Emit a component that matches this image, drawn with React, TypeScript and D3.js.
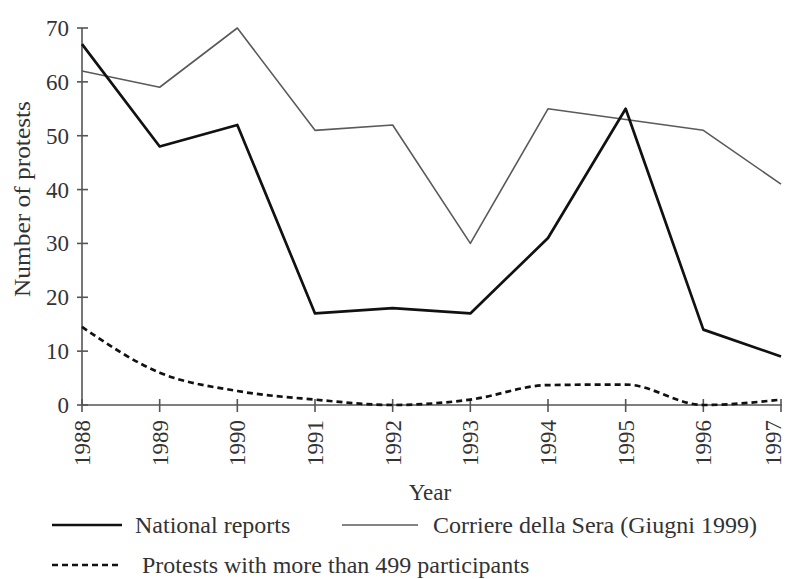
import React from "react";
import * as d3 from "d3";

const years = [1988, 1989, 1990, 1991, 1992, 1993, 1994, 1995, 1996, 1997];
const nationalReports = [67, 48, 52, 17, 18, 17, 31, 55, 14, 9];
const corriere = [62, 59, 70, 51, 52, 30, 55, 53, 51, 41];
const largeProtests = [14.5, 6, 2.6, 1, 0, 1, 3.7, 3.8, 0, 1];
const yTicks = [0, 10, 20, 30, 40, 50, 60, 70];

const W = 787;
const H = 579;
const left = 82;
const right = 781;
const top = 28;
const bottom = 405;
const font = "'Liberation Serif', 'Times New Roman', serif";

export default function App() {
  const x = d3.scaleLinear().domain([1988, 1997]).range([left, right]);
  const y = d3.scaleLinear().domain([0, 70]).range([bottom, top]);
  const line = d3
    .line<number>()
    .x((_, i) => x(years[i]))
    .y((d) => y(d));
  const smooth = d3
    .line<number>()
    .x((_, i) => x(years[i]))
    .y((d) => y(d))
    .curve(d3.curveMonotoneX);
  const axisColor = "#555";
  const textColor = "#333";
  const row1 = 525;
  const row2 = 565;
  return (
    <svg
      width={W}
      height={H}
      style={{ position: "absolute", left: 0, top: 0, background: "#fff" }}
      fontFamily={font}
    >
      {/* axes */}
      <line x1={left} x2={left} y1={top} y2={bottom} stroke={axisColor} strokeWidth={1.6} />
      <line x1={left} x2={right + 1} y1={bottom} y2={bottom} stroke={axisColor} strokeWidth={1.6} />
      {yTicks.map((t) => (
        <g key={t}>
          <line x1={left - 5} x2={left + 6} y1={y(t)} y2={y(t)} stroke={axisColor} strokeWidth={1.6} />
          <text x={left - 13} y={y(t)} dy="0.35em" textAnchor="end" fontSize={23} fill={textColor}>
            {t}
          </text>
        </g>
      ))}
      {years.map((yr, i) => (
        <g key={yr}>
          <line x1={x(yr)} x2={x(yr)} y1={bottom - 6} y2={bottom + 7} stroke={axisColor} strokeWidth={1.6} />
          <text
            transform={`translate(${x(yr) - (i === years.length - 1 ? 8 : 0)},${bottom + 15}) rotate(-90)`}
            textAnchor="end"
            dy="0.35em"
            fontSize={23}
            fill={textColor}
          >
            {yr}
          </text>
        </g>
      ))}
      <text
        transform={`translate(22,${199}) rotate(-90)`}
        textAnchor="middle"
        dy="0.35em"
        fontSize={24}
        fill={textColor}
        textLength={196}
        lengthAdjust="spacingAndGlyphs"
      >
        Number of protests
      </text>
      <text x={430} y={500} textAnchor="middle" fontSize={23} fill={textColor}>
        Year
      </text>

      {/* series */}
      <path d={line(corriere) || ""} fill="none" stroke="#5a5a5a" strokeWidth={1.6} strokeLinejoin="round" />
      <path d={line(nationalReports) || ""} fill="none" stroke="#111" strokeWidth={2.7} strokeLinejoin="round" />
      <path
        d={smooth(largeProtests) || ""}
        fill="none"
        stroke="#111"
        strokeWidth={2.7}
        strokeDasharray="6,4"
      />

      {/* legend */}
      <line x1={52} x2={122} y1={row1} y2={row1} stroke="#111" strokeWidth={2.7} />
      <text x={135} y={row1} dy="0.35em" fontSize={24} fill={textColor}>
        National reports
      </text>
      <line x1={342} x2={418} y1={row1} y2={row1} stroke="#5a5a5a" strokeWidth={1.6} />
      <text x={433} y={row1} dy="0.35em" fontSize={24} fill={textColor}>
        Corriere della Sera (Giugni 1999)
      </text>
      <line x1={52} x2={122} y1={row2} y2={row2} stroke="#111" strokeWidth={2.7} strokeDasharray="6,4" />
      <text x={142} y={row2} dy="0.35em" fontSize={24} fill={textColor}>
        Protests with more than 499 participants
      </text>
    </svg>
  );
}
